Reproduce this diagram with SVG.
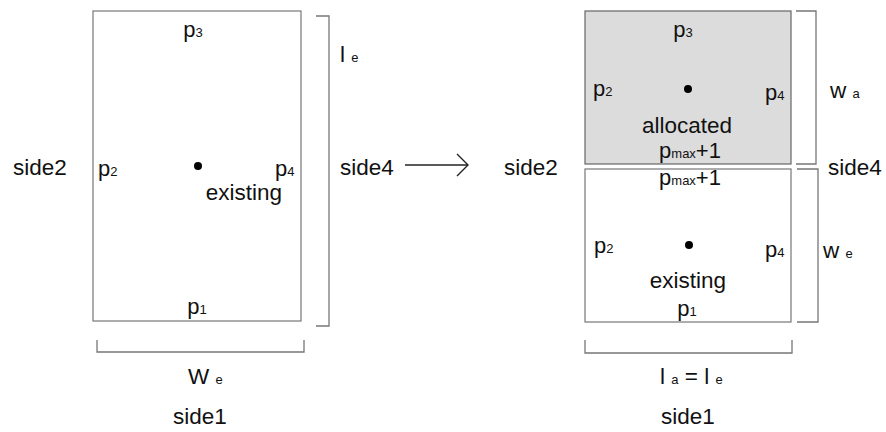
<svg xmlns="http://www.w3.org/2000/svg" width="886" height="432" viewBox="0 0 886 432">
<style>
text{font-family:"Liberation Sans",Arial,sans-serif;fill:#111;}
.t{font-size:22.5px;}
.p{font-size:22px;}
.s{font-size:13px;}
.box{fill:#fff;stroke:#777;stroke-width:1.2;}
.alloc{fill:#dcdcdc;stroke:#666;stroke-width:1.2;}
.br{fill:none;stroke:#777;stroke-width:1.3;}
.dot{fill:#000;}
</style>
<defs>
<marker id="chev" markerWidth="14" markerHeight="24" refX="12" refY="12" orient="auto" markerUnits="userSpaceOnUse">
<path d="M1,1 L12,12 L1,23" fill="none" stroke="#222" stroke-width="1.4"/>
</marker>
</defs>
<rect width="886" height="432" fill="#fff"/>

<g id="existing-left">
<rect class="box" x="93" y="11" width="208" height="310"/>
<text class="p" x="193" y="37" text-anchor="middle">p<tspan class="s">3</tspan></text>
<text class="p" x="98" y="176">p<tspan class="s">2</tspan></text>
<circle class="dot" cx="198" cy="166" r="4"/>
<text class="p" x="275" y="176">p<tspan class="s">4</tspan></text>
<text class="t" x="244" y="200" text-anchor="middle">existing</text>
<text class="p" x="197" y="314" text-anchor="middle">p<tspan class="s">1</tspan></text>
</g>

<g id="labels-left">
<text class="t" x="13" y="175">side2</text>
<text class="t" x="340" y="175">side4</text>
<text class="t" x="340" y="62">l <tspan class="s">e</tspan></text>
<text class="t" x="188" y="384">W <tspan class="s">e</tspan></text>
<text class="t" x="173" y="424">side1</text>
</g>

<g id="allocated-right">
<rect class="alloc" x="585" y="11" width="206" height="153"/>
<text class="p" x="683" y="37" text-anchor="middle">p<tspan class="s">3</tspan></text>
<text class="p" x="593" y="96">p<tspan class="s">2</tspan></text>
<circle class="dot" cx="688" cy="89" r="4"/>
<text class="p" x="765" y="100">p<tspan class="s">4</tspan></text>
<text class="t" x="687" y="133" text-anchor="middle">allocated</text>
<text class="p" x="690" y="158" text-anchor="middle">p<tspan class="s">max</tspan>+1</text>
</g>

<g id="existing-right">
<rect class="box" x="585" y="169" width="206" height="153"/>
<text class="p" x="690" y="185" text-anchor="middle">p<tspan class="s">max</tspan>+1</text>
<text class="p" x="594" y="253">p<tspan class="s">2</tspan></text>
<circle class="dot" cx="689" cy="245" r="4"/>
<text class="p" x="765" y="257">p<tspan class="s">4</tspan></text>
<text class="t" x="688" y="288" text-anchor="middle">existing</text>
<text class="p" x="687" y="316" text-anchor="middle">p<tspan class="s">1</tspan></text>
</g>

<g id="labels-right">
<text class="t" x="504" y="175">side2</text>
<text class="t" x="828" y="175">side4</text>
<text class="t" x="830" y="98">w <tspan class="s">a</tspan></text>
<text class="t" x="823" y="258">w <tspan class="s">e</tspan></text>
<text class="t" x="660" y="384">l <tspan class="s">a</tspan> = l <tspan class="s">e</tspan></text>
<text class="t" x="661" y="424">side1</text>
</g>

<g id="connectors">
<path class="br" d="M316,16 H329 V326 H316"/>
<path class="br" d="M97,340 V352 H304 V340"/>
<path class="br" d="M796,11 H816 V164 H796"/>
<path class="br" d="M797,169 H818 V322 H797"/>
<path class="br" d="M585,340 V353 H792 V340"/>
<line x1="405" y1="165" x2="468" y2="165" stroke="#222" stroke-width="1.4" marker-end="url(#chev)"/>
</g>
</svg>
